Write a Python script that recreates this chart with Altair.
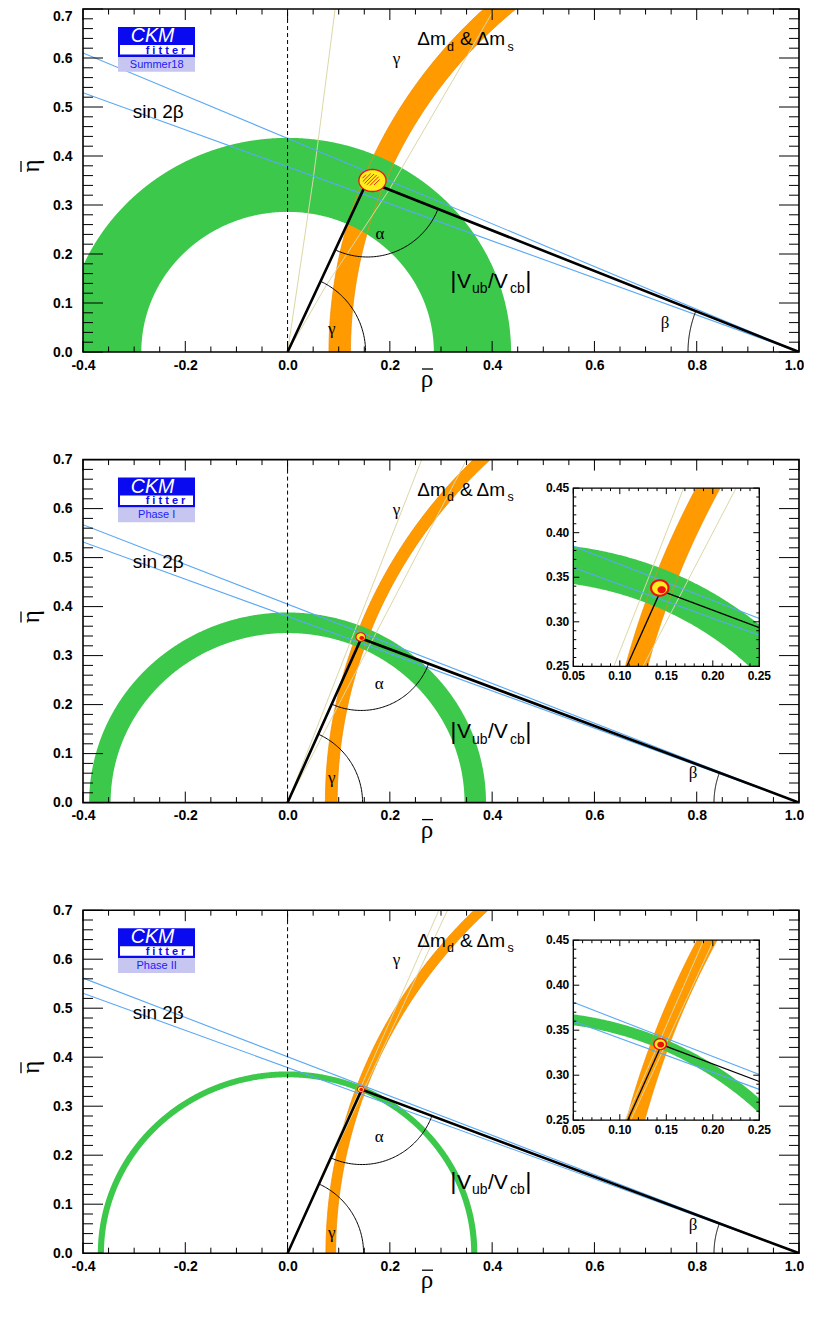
import numpy as np
import pandas as pd
import altair as alt

# ---------------- values ----------------
PANEL_TAGS = ["Summer18", "Phase I", "Phase II"]
APEX_RHO = [0.156, 0.144, 0.145]
APEX_ETA = [0.349, 0.335, 0.334]
VUB_R_IN = [0.286, 0.346, 0.359]
VUB_R_OUT = [0.437, 0.388, 0.371]
DM_CENTER = [1.042, 1.065, 1.065]
DM_R_IN = [0.919, 0.968, 0.971]
DM_R_OUT = [0.961, 0.991, 0.990]
S2B_SLOPE_HI = [0.436, 0.405, 0.401]
S2B_SLOPE_LO = [0.378, 0.380, 0.379]
GAMMA_RHO = [[[0.0, 0.050, 0.093], [0.0, 0.075, 0.198, 0.402]],
             [[0.0, 0.281], [0.0, 0.375]],
             [[0.0, 0.317], [0.0, 0.335]]]
GAMMA_ETA = [[[0.0, 0.352, 0.700], [0.0, 0.135, 0.330, 0.696]],
             [[0.0, 0.750], [0.0, 0.750]],
             [[0.0, 0.750], [0.0, 0.750]]]
# apex confidence regions: (rho, eta, half-width, half-height)
CL_OUTER = [(0.166, 0.350, 0.0265, 0.0225), (0.143, 0.338, 0.0105, 0.0098), (0.1434, 0.3345, 0.0075, 0.0068)]
CL_MID = [None, (0.143, 0.338, 0.0082, 0.0075), (0.1434, 0.3345, 0.0059, 0.0053)]
CL_CORE = [(0.163, 0.352, 0.017, 0.012), (0.145, 0.336, 0.0045, 0.0040), (0.1440, 0.3340, 0.0037, 0.0033)]

X_LABELS = [-0.4, -0.2, 0.0, 0.2, 0.4, 0.6, 0.8, 1.0]
Y_LABELS = [0.0, 0.1, 0.2, 0.3, 0.4, 0.5, 0.6, 0.7]
INSET_X_LABELS = [0.05, 0.10, 0.15, 0.20, 0.25]
INSET_Y_LABELS = [0.25, 0.30, 0.35, 0.40, 0.45]

# ---------------- layout / style ----------------
W, H = 716, 343
XD = [-0.4, 1.0]
YD = [0.0, 0.7]
KX = W / (XD[1] - XD[0])
KY = H / (YD[1] - YD[0])
SPACING = 107.6
IXD = [0.05, 0.25]
IYD = [0.25, 0.45]
INSET_XPIX = [490.3, 676.3]
INSET_YPIX = [None, (28.5, 206.8), (30.0, 210.0)]
ARC_GAMMA_PX = [78, 75, 76]
ARC_ALPHA_PX = [76, 72, 75]
ARC_BETA_PX = [111, 85, 85]

ORANGE = "#ff9b00"
ORANGE_EDGE = "#f28a00"
GREEN = "#3cc84b"
BLUE = "#5aa8f5"
TAN = "#dcd7a6"
LOGO_BLUE = "#0a0af0"
LAVENDER = "#c6c6f0"
FONT = "Liberation Sans"
SERIF = "Liberation Serif"

LBL = "replace(format(datum.value, '.1f'), '\u2212', '-')"

xscale = alt.Scale(domain=XD, nice=False, zero=False)
yscale = alt.Scale(domain=YD, nice=False, zero=False)
xaxis = alt.Axis(values=X_LABELS, labelExpr=LBL, title=None, domain=False, ticks=False,
                 tickSize=0, grid=False, labelFont=FONT, labelFontSize=14, labelFontWeight="bold",
                 labelColor="black", labelPadding=6, labelFlush=False, labelOverlap=False,
                 labelOffset={"condition": {"test": "datum.value > 0.99", "value": -5}, "value": 0})


def make_yaxis(first):
    extra = {}
    if first:
        extra["labelBaseline"] = {"condition": {"test": "datum.value > 0.69", "value": "top"}, "value": "middle"}
    return alt.Axis(values=Y_LABELS, labelExpr=LBL, title=None, domain=False, ticks=False,
                    tickSize=0, grid=False, labelFont=FONT, labelFontSize=14, labelFontWeight="bold",
                    labelColor="black", labelPadding=11, labelFlush=False, labelOverlap=False, **extra)


def to_data(xr, yr):
    return XD[0] + xr / KX, YD[1] - yr / KY


def poly_df(polys):
    rows = []
    for k, (xs, ys) in enumerate(polys):
        for i, (a, b) in enumerate(zip(xs, ys)):
            rows.append({"id": k, "i": i, "x": float(a), "y": float(b)})
    return pd.DataFrame(rows)


def line_layer(polys, X, Y, clip=True, **mk):
    return alt.Chart(poly_df(polys)).mark_line(clip=clip, **mk).encode(
        x=X("x"), y=Y("y"), detail="id:N", order="i:Q")


def ellipse_layer(e, X, Y, **mk):
    cx, cy, a, b = e
    t = np.linspace(0, np.pi, 90)
    df = pd.DataFrame({"x": cx + a * np.cos(t), "y": cy + b * np.sin(t), "y2": cy - b * np.sin(t)})
    return alt.Chart(df).mark_area(**mk).encode(x=X("x"), y=Y("y"), y2=alt.Y2("y2"))


def hatch_polys(e, kx, ky, step=2.6):
    cx, cy, a, b = e
    A, B = a * kx, b * ky
    polys = []
    R = max(A, B)
    for c in np.arange(-R, R, step):
        nx, ny = -c / np.sqrt(2), c / np.sqrt(2)
        dx, dy = 1 / np.sqrt(2), 1 / np.sqrt(2)
        qa = dx * dx / A ** 2 + dy * dy / B ** 2
        qb = 2 * (nx * dx / A ** 2 + ny * dy / B ** 2)
        qc = nx * nx / A ** 2 + ny * ny / B ** 2 - 1
        disc = qb * qb - 4 * qa * qc
        if disc <= 0:
            continue
        s0 = (-qb - np.sqrt(disc)) / (2 * qa)
        s1 = (-qb + np.sqrt(disc)) / (2 * qa)
        xs = [cx + (nx + s * dx) / kx for s in (s0, s1)]
        ys = [cy + (ny + s * dy) / ky for s in (s0, s1)]
        polys.append((xs, ys))
    return polys


def clip_seg(p0, p1, box):
    xmin, xmax, ymin, ymax = box
    x0, y0 = p0
    x1, y1 = p1
    dx, dy = x1 - x0, y1 - y0
    t0, t1 = 0.0, 1.0
    for p, q in ((-dx, x0 - xmin), (dx, xmax - x0), (-dy, y0 - ymin), (dy, ymax - y0)):
        if p == 0:
            if q < 0:
                return None
        else:
            t = q / p
            if p < 0:
                t0 = max(t0, t)
            else:
                t1 = min(t1, t)
    if t0 > t1:
        return None
    return ([x0 + t0 * dx, x0 + t1 * dx], [y0 + t0 * dy, y0 + t1 * dy])


def clip_polys(polys, box):
    out = []
    for xs, ys in polys:
        for i in range(len(xs) - 1):
            s = clip_seg((xs[i], ys[i]), (xs[i + 1], ys[i + 1]), box)
            if s is not None:
                out.append(s)
    return out


def text_layer(rows, X, Y, **mk):
    df = pd.DataFrame([{"x": to_data(xr, yr)[0], "y": to_data(xr, yr)[1], "t": t} for xr, yr, t in rows])
    return alt.Chart(df).mark_text(**mk).encode(x=X("x"), y=Y("y"), text="t:N")


def band_layers(k, X, Y, ylo, yhi, xlo, xhi, clip):
    cx = DM_CENTER[k]
    yy = np.linspace(ylo, yhi, 240)
    df_o = pd.DataFrame({"y": yy, "x": cx - np.sqrt(DM_R_OUT[k] ** 2 - yy ** 2),
                         "x2": cx - np.sqrt(DM_R_IN[k] ** 2 - yy ** 2)})
    orange = alt.Chart(df_o).mark_area(orient="horizontal", color=ORANGE, clip=clip).encode(
        y=Y("y"), x=X("x"), x2=alt.X2("x2"))
    ro, ri = VUB_R_OUT[k], VUB_R_IN[k]
    if xlo is None:
        t = np.linspace(0, np.pi, 500)
        xg = np.unique(np.concatenate([ro * np.cos(t), ri * np.cos(t)]))
    else:
        xg = np.linspace(xlo, xhi, 200)
    df_g = pd.DataFrame({"x": xg, "y": np.sqrt(np.clip(ro ** 2 - xg ** 2, 0, None)),
                         "y2": np.sqrt(np.clip(ri ** 2 - xg ** 2, 0, None))})
    green = alt.Chart(df_g).mark_area(color=GREEN, clip=clip).encode(x=X("x"), y=Y("y"), y2=alt.Y2("y2"))
    edges = [(cx - np.sqrt(r ** 2 - yy ** 2), yy) for r in (DM_R_OUT[k], DM_R_IN[k])]
    edge = line_layer(edges, X, Y, clip=clip, color=ORANGE_EDGE, strokeWidth=0.8)
    return [orange, green, edge]


def blob_layers(k, X, Y, kx, ky):
    L = []
    if k == 0:
        L.append(ellipse_layer(CL_OUTER[k], X, Y, color="#ffee1e", stroke="#ee1010", strokeWidth=1.3))
        L.append(line_layer(hatch_polys(CL_CORE[k], kx, ky), X, Y, clip=False, color="#ee1010", strokeWidth=0.9))
    else:
        L.append(ellipse_layer(CL_OUTER[k], X, Y, color="#ee1010"))
        L.append(ellipse_layer(CL_MID[k], X, Y, color="#ffee1e"))
        L.append(ellipse_layer(CL_CORE[k], X, Y, color="#ee1010"))
    return L


def main_panel(k):
    yaxis = make_yaxis(k == 0)

    def MX(f):
        return alt.X(f, type="quantitative", scale=xscale, axis=xaxis)

    def MY(f):
        return alt.Y(f, type="quantitative", scale=yscale, axis=yaxis)

    ax, ay = APEX_RHO[k], APEX_ETA[k]
    L = band_layers(k, MX, MY, 0.0, 0.7, None, None, True)
    gam = [(GAMMA_RHO[k][j], GAMMA_ETA[k][j]) for j in range(len(GAMMA_RHO[k]))]
    L.append(line_layer(gam, MX, MY, color=TAN, strokeWidth=1))
    xb = np.array(XD)
    s2b = [(xb, s * (1 - xb)) for s in (S2B_SLOPE_HI[k], S2B_SLOPE_LO[k])]
    L.append(line_layer(s2b, MX, MY, color=BLUE, strokeWidth=1.1))
    L.append(line_layer([([0.0, 0.0], YD)], MX, MY, color="black", strokeWidth=1, strokeDash=[4, 3]))
    L.append(line_layer([([0.0, ax, 1.0], [0.0, ay, 0.0])], MX, MY, color="black", strokeWidth=2.6))
    # angle arcs (circular on screen)
    arcs = []
    g1 = np.arctan2(ay * KY, ax * KX)
    t = np.linspace(0, g1, 60)
    arcs.append((ARC_GAMMA_PX[k] * np.cos(t) / KX, ARC_GAMMA_PX[k] * np.sin(t) / KY))
    b0 = np.arctan2(ay * KY, (ax - 1) * KX)
    t = np.linspace(b0, np.pi, 60)
    arcs.append((1 + ARC_BETA_PX[k] * np.cos(t) / KX, ARC_BETA_PX[k] * np.sin(t) / KY))
    a0 = np.arctan2(-ay * KY, -ax * KX)
    a1 = np.arctan2(-ay * KY, (1 - ax) * KX)
    t = np.linspace(a0, a1, 80)
    arcs.append((ax + ARC_ALPHA_PX[k] * np.cos(t) / KX, ay + ARC_ALPHA_PX[k] * np.sin(t) / KY))
    L.append(line_layer(arcs, MX, MY, color="black", strokeWidth=1))
    L += blob_layers(k, MX, MY, KX, KY)
    # labels
    big = dict(font=FONT, fontSize=19, align="left", baseline="alphabetic", color="black")
    sub = dict(font=FONT, fontSize=12.5, align="left", baseline="alphabetic", color="black")
    greek = dict(font=SERIF, fontSize=17, align="center", baseline="middle", color="black")
    vbig = dict(font=FONT, fontSize=21, align="left", baseline="alphabetic", color="black")
    vsub = dict(font=FONT, fontSize=14, align="left", baseline="alphabetic", color="black")
    bar = dict(font=FONT, fontSize=24, align="center", baseline="middle", color="black")
    L.append(text_layer([(334.3, 36.3, "\u0394m"), (377, 36.3, "&"), (393.5, 36.3, "\u0394m"),
                         (49.7, 108.7, "sin 2\u03b2")], MX, MY, **big))
    L.append(text_layer([(364, 41.5, "d"), (424.5, 41.5, "s")], MX, MY, **sub))
    alpha_pos = [(297, 225.3), (296.3, 224.2), (296.3, 226.7)][k]
    beta_pos = [(582, 313.7), (610, 313.5), (610, 315)][k]
    gam_pos = [(248.7, 320.3), (248.7, 318.5), (248.7, 323)][k]
    L.append(text_layer([(313.5, 50, "\u03b3"), (alpha_pos[0], alpha_pos[1], "\u03b1"),
                         (beta_pos[0], beta_pos[1], "\u03b2"), (gam_pos[0], gam_pos[1], "\u03b3")], MX, MY, **greek))
    L.append(text_layer([(374, 278.7, "V"), (405, 278.7, "/V")], MX, MY, **vbig))
    L.append(text_layer([(389, 284, "ub"), (427, 284, "cb")], MX, MY, **vsub))
    L.append(text_layer([(370.3, 272, "|"), (445.3, 272, "|")], MX, MY, **bar))
    # axis titles (rho-bar below, eta-bar on the left, rotated)
    L.append(text_layer([(344, 378, "\u03c1")], MX, MY, font=SERIF, fontSize=25, align="center",
                        baseline="alphabetic", color="black"))
    L.append(text_layer([(-44, 157, "\u03b7")], MX, MY, font=SERIF, fontSize=25, align="center",
                        baseline="alphabetic", angle=270, color="black"))
    bars = [([to_data(339, 360)[0], to_data(350, 360)[0]], [to_data(339, 360)[1]] * 2),
            ([to_data(-62, 152)[0]] * 2, [to_data(-62, 152)[1], to_data(-62, 163)[1]])]
    L.append(line_layer(bars, MX, MY, clip=False, color="black", strokeWidth=1.3))

    # logo
    def rect_df(x0, y0, x1, y1):
        a = to_data(x0, y0)
        b = to_data(x1, y1)
        return pd.DataFrame({"x": [a[0]], "x2": [b[0]], "y": [a[1]], "y2": [b[1]]})
    for (x0, y0, x1, y1), col in (((35, 18, 112, 48), LOGO_BLUE), ((37, 36, 110, 45.5), "white"),
                                  ((35, 48, 112, 62.7), LAVENDER)):
        L.append(alt.Chart(rect_df(x0, y0, x1, y1)).mark_rect(color=col).encode(
            x=MX("x"), x2=alt.X2("x2"), y=MY("y"), y2=alt.Y2("y2")))
    L.append(text_layer([(69.5, 33.0, "CKM")], MX, MY, font=FONT, fontSize=19.5, fontStyle="italic",
                        align="center", baseline="alphabetic", color="white"))
    L.append(text_layer([(82.5, 44.8, "f i t t e r")], MX, MY, font=FONT, fontSize=11, fontWeight="bold",
                        align="center", baseline="alphabetic", color=LOGO_BLUE))
    L.append(text_layer([(73.7, 55.5, PANEL_TAGS[k])], MX, MY, font=FONT, fontSize=11,
                        align="center", baseline="middle", color="#2020ff"))
    # ticks (inward, on all four sides)
    rows = []
    for v in np.round(np.arange(XD[0], XD[1] + 1e-9, 0.05), 3):
        ln = 11 if min(abs(v - m) for m in X_LABELS) < 1e-6 else 5.5
        rows.append(dict(x=v, x2=v, y=YD[0], y2=YD[0] + ln / KY))
        rows.append(dict(x=v, x2=v, y=YD[1], y2=YD[1] - ln / KY))
    for v in np.round(np.arange(YD[0], YD[1] + 1e-9, 0.02), 3):
        ln = 20 if min(abs(v - m) for m in Y_LABELS) < 1e-6 else 10
        rows.append(dict(x=XD[0], x2=XD[0] + ln / KX, y=v, y2=v))
        rows.append(dict(x=XD[1], x2=XD[1] - ln / KX, y=v, y2=v))
    L.append(alt.Chart(pd.DataFrame(rows)).mark_rule(color="black", strokeWidth=1).encode(
        x=MX("x"), x2=alt.X2("x2"), y=MY("y"), y2=alt.Y2("y2")))
    frame = pd.DataFrame({"x": [XD[0]], "x2": [XD[1]], "y": [YD[0]], "y2": [YD[1]]})
    L.append(alt.Chart(frame).mark_rect(fill="transparent", stroke="black", strokeWidth=1.6).encode(
        x=MX("x"), x2=alt.X2("x2"), y=MY("y"), y2=alt.Y2("y2")))
    return alt.layer(*L)


def inset_panel(k):
    ax, ay = APEX_RHO[k], APEX_ETA[k]
    top, bot = INSET_YPIX[k]
    sx = alt.Scale(domain=IXD, range=INSET_XPIX, nice=False, zero=False, clamp=True)
    sy = alt.Scale(domain=IYD, range=[bot, top], nice=False, zero=False, clamp=True)
    kxi = (INSET_XPIX[1] - INSET_XPIX[0]) / (IXD[1] - IXD[0])
    kyi = (bot - top) / (IYD[1] - IYD[0])

    def IX(f):
        return alt.X(f, type="quantitative", scale=sx, axis=None)

    def IY(f):
        return alt.Y(f, type="quantitative", scale=sy, axis=None)

    box = (IXD[0], IXD[1], IYD[0], IYD[1])
    boxdf = pd.DataFrame({"x": [IXD[0]], "x2": [IXD[1]], "y": [IYD[0]], "y2": [IYD[1]]})
    L = [alt.Chart(boxdf).mark_rect(color="white").encode(x=IX("x"), x2=alt.X2("x2"), y=IY("y"), y2=alt.Y2("y2"))]
    L += band_layers(k, IX, IY, IYD[0], IYD[1], IXD[0], IXD[1], False)
    gam = [(GAMMA_RHO[k][j], GAMMA_ETA[k][j]) for j in range(len(GAMMA_RHO[k]))]
    L.append(line_layer(clip_polys(gam, box), IX, IY, clip=False, color=TAN, strokeWidth=1))
    xb = [XD[0], XD[1]]
    s2b = [(xb, [s * (1 - v) for v in xb]) for s in (S2B_SLOPE_HI[k], S2B_SLOPE_LO[k])]
    L.append(line_layer(clip_polys(s2b, box), IX, IY, clip=False, color=BLUE, strokeWidth=1.1))
    tri = [([0.0, ax, 1.0], [0.0, ay, 0.0])]
    L.append(line_layer(clip_polys(tri, box), IX, IY, clip=False, color="black", strokeWidth=1.3))
    L += blob_layers(k, IX, IY, kxi, kyi)
    rows = []
    for v in np.round(np.arange(IXD[0], IXD[1] + 1e-9, 0.01), 3):
        ln = 6 if min(abs(v - m) for m in INSET_X_LABELS) < 1e-6 else 3
        rows.append(dict(x=v, x2=v, y=IYD[0], y2=IYD[0] + ln / kyi))
        rows.append(dict(x=v, x2=v, y=IYD[1], y2=IYD[1] - ln / kyi))
    for v in np.round(np.arange(IYD[0], IYD[1] + 1e-9, 0.01), 3):
        ln = 6 if min(abs(v - m) for m in INSET_Y_LABELS) < 1e-6 else 3
        rows.append(dict(x=IXD[0], x2=IXD[0] + ln / kxi, y=v, y2=v))
        rows.append(dict(x=IXD[1], x2=IXD[1] - ln / kxi, y=v, y2=v))
    L.append(alt.Chart(pd.DataFrame(rows)).mark_rule(color="black", strokeWidth=1).encode(
        x=IX("x"), x2=alt.X2("x2"), y=IY("y"), y2=alt.Y2("y2")))
    L.append(alt.Chart(boxdf).mark_rect(fill="transparent", stroke="black", strokeWidth=1.3).encode(
        x=IX("x"), x2=alt.X2("x2"), y=IY("y"), y2=alt.Y2("y2")))
    ylab = pd.DataFrame({"x": [IXD[0]] * len(INSET_Y_LABELS), "y": INSET_Y_LABELS,
                         "t": [f"{v:.2f}" for v in INSET_Y_LABELS]})
    L.append(alt.Chart(ylab).mark_text(font=FONT, fontSize=12, fontWeight="bold", align="right",
                                       baseline="middle", dx=-4, color="black").encode(
        x=IX("x"), y=IY("y"), text="t:N"))
    xlab = pd.DataFrame({"x": INSET_X_LABELS, "y": [IYD[0]] * len(INSET_X_LABELS),
                         "t": [f"{v:.2f}" for v in INSET_X_LABELS]})
    L.append(alt.Chart(xlab).mark_text(font=FONT, fontSize=12, fontWeight="bold", align="center",
                                       baseline="top", dy=5, color="black").encode(
        x=IX("x"), y=IY("y"), text="t:N"))
    return alt.layer(*L)


panels = []
for k in range(3):
    main = main_panel(k)
    if INSET_YPIX[k] is None:
        p = main.properties(width=W, height=H)
    else:
        p = alt.layer(main, inset_panel(k)).resolve_scale(x="independent", y="independent").properties(
            width=W, height=H)
    panels.append(p)

chart = alt.vconcat(*panels, spacing=SPACING).properties(
    bounds="flush", padding={"left": 10, "top": 0, "right": 0, "bottom": 4}
).configure_view(strokeWidth=0)

chart.save("out.html", embed_options={"renderer": "svg", "actions": False})
